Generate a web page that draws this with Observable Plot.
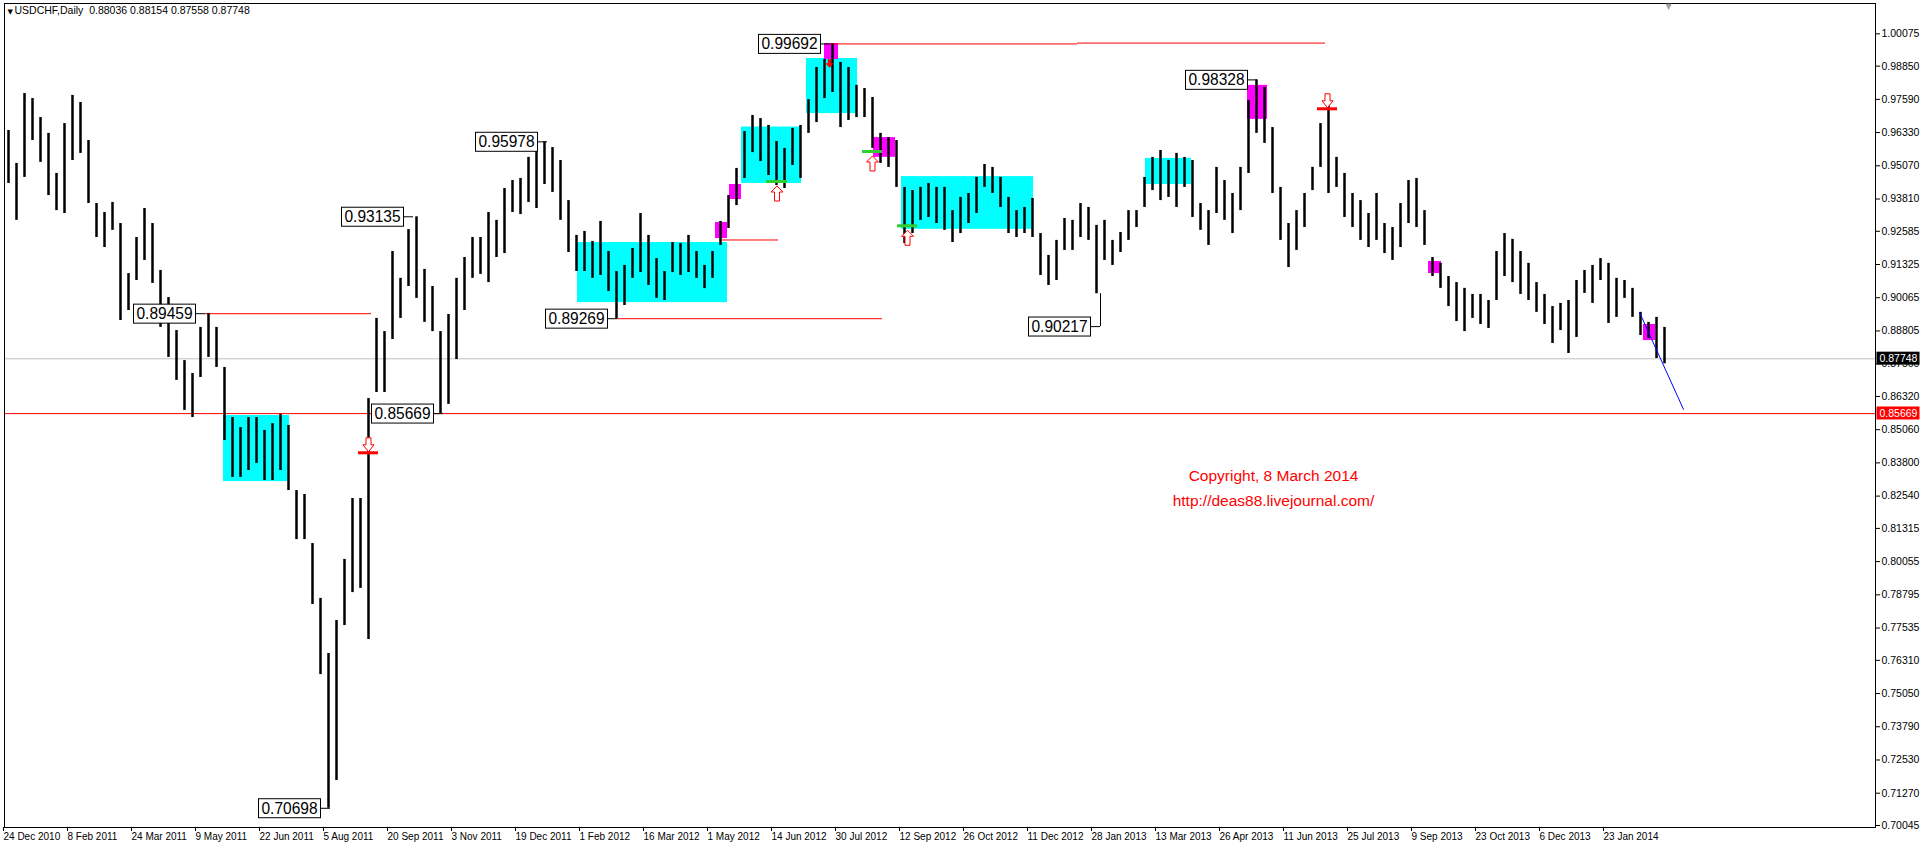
<!DOCTYPE html>
<html><head><meta charset="utf-8">
<script src="https://cdn.jsdelivr.net/npm/d3@7"></script>
<script src="https://cdn.jsdelivr.net/npm/@observablehq/plot@0.6"></script>
<style>html,body{margin:0;padding:0;background:#fff;overflow:hidden}#chart svg{display:block}</style>
</head><body><div id="chart"></div>
<script>
// Each entry aggregates four consecutive daily bars (high / low)
const hi = [0.9641,0.9516,0.9781,0.9762,0.9690,0.9630,0.9478,0.9667,0.9774,0.9747,
0.9603,0.9364,0.9330,0.9368,0.9288,0.9098,0.9235,0.9345,0.9288,0.9110,
0.9007,0.8882,0.8768,0.8719,0.8894,0.8947,0.8894,0.8742,0.8552,0.8514,
0.8552,0.8552,0.8503,0.8529,0.8564,0.8522,0.8275,0.8260,0.8074,0.7866,
0.7657,0.7782,0.8014,0.8245,0.8245,0.8624,0.8928,0.8878,0.9182,0.9080,
0.9265,0.93135,0.9114,0.9049,0.8878,0.8943,0.9080,0.9159,0.9235,0.9235,
0.9330,0.9300,0.9421,0.9451,0.9459,0.9539,0.9569,0.95978,0.9576,0.9527,
0.9375,0.9243,0.9258,0.9220,0.9296,0.9182,0.9106,0.9129,0.9193,0.9326,
0.9243,0.9155,0.9106,0.9216,0.9212,0.9243,0.9182,0.9129,0.9182,0.9296,
0.9394,0.9497,0.9637,0.9698,0.9686,0.9660,0.9599,0.9573,0.9649,0.9660,
0.9758,0.9880,0.9910,0.99692,0.9899,0.9880,0.9812,0.9800,0.9766,0.9630,
0.9614,0.9603,0.9425,0.9413,0.9425,0.9440,0.9425,0.9425,0.9337,0.9387,
0.9402,0.9463,0.9512,0.9501,0.9463,0.9387,0.9337,0.9349,0.9383,0.9250,
0.9167,0.9224,0.9307,0.9300,0.9364,0.9349,0.9281,0.9300,0.9224,0.9254,
0.9337,0.9337,0.9463,0.9539,0.9565,0.9527,0.9554,0.9539,0.9527,0.9364,
0.9337,0.9501,0.9451,0.9402,0.9501,0.9755,0.98328,0.9804,0.9652,0.9425,
0.9288,0.9337,0.9402,0.9501,0.9667,0.9755,0.9539,0.9478,0.9402,0.9375,
0.9326,0.9402,0.9288,0.9273,0.9364,0.9451,0.9459,0.9337,0.9159,0.9137,
0.9087,0.9064,0.9042,0.9019,0.9019,0.8996,0.9182,0.9250,0.9228,0.9182,
0.9137,0.9064,0.9019,0.8973,0.8985,0.8996,0.9072,0.9110,0.9129,0.9155,
0.9137,0.9080,0.9072,0.9042,0.8951,0.8913,0.8932,0.8894];
const lo = [0.9440,0.9300,0.9463,0.9603,0.9520,0.9394,0.9337,0.9326,0.9527,0.9554,
0.9364,0.9235,0.9197,0.9262,0.8920,0.8958,0.9072,0.9148,0.9061,0.8894,
0.8780,0.8693,0.8579,0.8552,0.8704,0.8780,0.8742,0.8465,0.8325,0.8325,
0.8351,0.8378,0.8313,0.8313,0.8351,0.8275,0.8089,0.8089,0.7843,0.7577,
0.70698,0.7175,0.7763,0.7888,0.7904,0.7710,0.8647,0.8647,0.8848,0.8928,
0.9049,0.9004,0.8913,0.8878,0.85669,0.8602,0.8772,0.8958,0.9080,0.9095,
0.9064,0.9159,0.9174,0.9330,0.9322,0.9368,0.9345,0.9436,0.9406,0.9300,
0.9178,0.9106,0.9106,0.9080,0.9091,0.9030,0.89269,0.8977,0.9080,0.9102,
0.9053,0.9004,0.8996,0.9102,0.9091,0.9102,0.9080,0.9041,0.9080,0.9205,
0.9269,0.9356,0.9459,0.9557,0.9523,0.9470,0.9432,0.9421,0.9508,0.9459,
0.9630,0.9671,0.9762,0.9785,0.9652,0.9679,0.9690,0.9690,0.9573,0.9516,
0.9501,0.9425,0.9212,0.9250,0.9300,0.9311,0.9288,0.9262,0.9216,0.9250,
0.9288,0.9326,0.9425,0.9402,0.9349,0.9250,0.9235,0.9250,0.9235,0.9091,
0.9053,0.9072,0.9186,0.9186,0.9235,0.9224,0.90217,0.9148,0.9129,0.9178,
0.9224,0.9273,0.9349,0.9413,0.9375,0.9387,0.9349,0.9425,0.9311,0.9262,
0.9205,0.9326,0.9300,0.9250,0.9337,0.9478,0.9630,0.9592,0.9402,0.9224,
0.9121,0.9186,0.9273,0.9413,0.9501,0.9402,0.9425,0.9311,0.9273,0.9224,
0.9197,0.9224,0.9174,0.9148,0.9197,0.9288,0.9273,0.9205,0.9087,0.9042,
0.8973,0.8916,0.8878,0.8928,0.8905,0.8890,0.8996,0.9087,0.9064,0.9019,
0.8996,0.8951,0.8905,0.8833,0.8882,0.8795,0.8856,0.9023,0.8985,0.9072,
0.8909,0.8932,0.9004,0.8932,0.8863,0.8852,0.8776,0.8756];

const dateLabels = ["24 Dec 2010","8 Feb 2011","24 Mar 2011","9 May 2011","22 Jun 2011","5 Aug 2011","20 Sep 2011","3 Nov 2011","19 Dec 2011","1 Feb 2012","16 Mar 2012","1 May 2012","14 Jun 2012","30 Jul 2012","12 Sep 2012","26 Oct 2012","11 Dec 2012","28 Jan 2013","13 Mar 2013","26 Apr 2013","11 Jun 2013","25 Jul 2013","9 Sep 2013","23 Oct 2013","6 Dec 2013","23 Jan 2014"];
const barsPerLabel = 32;
const yTicks = [1.00075,0.98850,0.97590,0.96330,0.95070,0.93810,0.92585,0.91325,0.90065,0.88805,0.87560,0.86320,0.85060,0.83800,0.82540,0.81315,0.80055,0.78795,0.77535,0.76310,0.75050,0.73790,0.72530,0.71270,0.70045];

// zones: [from bar, to bar, low price, high price]
const cyanZones = [[110,143,0.8309,0.8560],[287,362,0.8988,0.9216],[369,399,0.9440,0.9654],[401.5,427,0.9705,0.9914],[449,515,0.9266,0.9466],[571,594,0.9436,0.9535]];
const magentaZones = [[356,362,0.9231,0.9292],[363,369,0.9379,0.9436],[410.5,417.5,0.9910,0.9971],[435,446,0.9539,0.9614],[622,632,0.9683,0.9812],[712.5,719,0.9098,0.9144],[820,826,0.8844,0.8905]];
// red level segments: [from bar, to bar, price]
const redSegments = [[101,184,0.89459],[307,439.5,0.89269],[359.5,387.5,0.92255],[413.5,537,0.99692],[537,661,0.99725]];
const supportLevel = 0.85669;
const lastPrice = 0.87748;
// extreme labels: [anchor bar, price, price level where the label box sits]
const extremes = [[101,0.89459,0.89459],[163.5,0.70698,0.70698],[220,0.85669,0.85669],[205,0.93135,0.93135],[272,0.95978,0.95978],[307,0.89269,0.89269],[413.5,0.99692,0.99692],[548.5,0.90217,0.8897],[627,0.98328,0.98328]];
// signal markers: [from bar, to bar, price]
const sellSignals = [[177.5,187.5,0.84183],[657,667,0.97232]];
const buySignals = [[381.5,392,0.94474],[429.5,439.5,0.95612],[447,457,0.92794]];
const peakMark = [[413,0.9895]];
const trendLine = [[818,0.8951],[840,0.8583]];
const copyright = [[635,0.8332,"Copyright, 8 March 2014"],[635,0.8234,"http://deas88.livejournal.com/"]];

const bars = hi.map((h, g) => ({day: g * 4 + 2.5, hi: h, lo: lo[g]}));
const zone = a => ({x1: a[0], x2: a[1], y1: a[2], y2: a[3]});

const downArrow = {draw(c) { c.moveTo(-2.5,-7); c.lineTo(2.5,-7); c.lineTo(2.5,0); c.lineTo(5.5,0); c.lineTo(0,7); c.lineTo(-5.5,0); c.lineTo(-2.5,0); c.closePath(); }};
const upArrow = {draw(c) { c.moveTo(0,-7.5); c.lineTo(6,-1.5); c.lineTo(2.5,-1.5); c.lineTo(2.5,7.5); c.lineTo(-2.5,7.5); c.lineTo(-2.5,-1.5); c.lineTo(-6,-1.5); c.closePath(); }};
const smallDown = {draw(c) { c.moveTo(-1.5,-4); c.lineTo(1.5,-4); c.lineTo(1.5,0); c.lineTo(3.5,0); c.lineTo(0,4); c.lineTo(-3.5,0); c.lineTo(-1.5,0); c.closePath(); }};

const svg = Plot.plot({
  width: 1920, height: 847,
  marginLeft: 4, marginRight: 45, marginTop: 3, marginBottom: 20,
  x: {domain: [0.5, 936], axis: null},
  y: {domain: [0.69969, 1.01226], axis: null},
  style: {fontFamily: "'Liberation Sans', Arial, sans-serif", fontSize: "10.5px", color: "#000", background: "#fff", overflow: "visible"},
  marks: [
    Plot.rect(cyanZones.map(zone), {x1: "x1", x2: "x2", y1: "y1", y2: "y2", fill: "#00ffff"}),
    Plot.rect(magentaZones.map(zone), {x1: "x1", x2: "x2", y1: "y1", y2: "y2", fill: "#ff00ff"}),
    Plot.ruleY([lastPrice], {stroke: "#c0c0c0"}),
    Plot.ruleY([supportLevel], {stroke: "#ff0000"}),
    Plot.ruleY(redSegments, {x1: d => d[0], x2: d => d[1], y: d => d[2], stroke: "#ff0000"}),
    Plot.ruleX(bars, {x: "day", y1: "lo", y2: "hi", stroke: "#000", strokeWidth: 2.5}),
    Plot.line(trendLine, {x: d => d[0], y: d => d[1], stroke: "#0000ff", strokeWidth: 1}),
    Plot.ruleY(extremes, {x1: d => d[0] - 5, x2: d => d[0], y: d => d[2], stroke: "#000"}),
    Plot.ruleX(extremes.filter(d => d[2] !== d[1]), {x: d => d[0], y1: d => d[1], y2: d => d[2], stroke: "#000"}),
    Plot.text(extremes, {x: d => d[0], y: d => d[2], dx: -13, text: d => d[1].toFixed(5), textAnchor: "end", fontSize: 17, fill: "#000", ariaDescription: "extreme-label"}),
    Plot.ruleY(sellSignals, {x1: d => d[0], x2: d => d[1], y: d => d[2], stroke: "#ff0000", strokeWidth: 3}),
    Plot.ruleY(buySignals, {x1: d => d[0], x2: d => d[1], y: d => d[2], stroke: "#32cd32", strokeWidth: 3}),
    Plot.dot(sellSignals, {x: d => (d[0] + d[1]) / 2, y: d => d[2], dy: -8, symbol: downArrow, fill: "#fff", stroke: "#ff0000", strokeWidth: 1}),
    Plot.dot(buySignals, {x: d => (d[0] + d[1]) / 2, y: d => d[2], dy: 12, symbol: upArrow, fill: "#fff", stroke: "#ff0000", strokeWidth: 1}),
    Plot.dot(peakMark, {x: d => d[0], y: d => d[1], symbol: smallDown, fill: "#ff0000", stroke: "#ff0000", strokeWidth: 0.5}),
    Plot.text(copyright, {x: d => d[0], y: d => d[1], text: d => d[2], fill: "#ff0000", fontSize: 15.5}),
    Plot.axisY({ticks: yTicks, anchor: "right", tickSize: 4, tickPadding: 2, tickFormat: d => d.toFixed(5), label: null}),
    Plot.axisX({ticks: dateLabels.map((_, k) => k * barsPerLabel), tickFormat: d => dateLabels[Math.round(d / barsPerLabel)], anchor: "bottom", tickSize: 4, tickPadding: 1, textAnchor: "start", fontSize: 10, label: null}),
    Plot.frame({stroke: "#000"}),
    Plot.text([lastPrice], {y: d => d, frameAnchor: "right", dx: 4, textAnchor: "start", text: d => d.toFixed(5), fill: "#fff", ariaDescription: "price-black"}),
    Plot.text([supportLevel], {y: d => d, frameAnchor: "right", dx: 4, textAnchor: "start", text: d => d.toFixed(5), fill: "#fff", ariaDescription: "price-red"}),
    Plot.text(["\u25BC"], {frameAnchor: "top-left", dx: 3, dy: 6, fontSize: 7, textAnchor: "start", fontFamily: "DejaVu Sans"}),
    Plot.text(["USDCHF,Daily  0.88036 0.88154 0.87558 0.87748"], {frameAnchor: "top-left", dx: 10, dy: 3, textAnchor: "start", lineAnchor: "top", fontSize: 10.5}),
    Plot.text(["\u25BC"], {x: [832.5], frameAnchor: "top", dy: 0, fontSize: 8, fill: "#a0a0a0", fontFamily: "DejaVu Sans"})
  ]
});
document.getElementById("chart").append(svg);

const NS = "http://www.w3.org/2000/svg";
function boxify(label, opts) {
  svg.querySelectorAll(`[aria-description="${label}"] text`).forEach(t => {
    if (opts.textLength) { t.setAttribute("textLength", opts.textLength); t.setAttribute("lengthAdjust", "spacingAndGlyphs"); }
    const b = t.getBBox();
    const r = document.createElementNS(NS, "rect");
    const w = opts.width || b.width + 6;
    const x = opts.left != null ? b.x - opts.left : b.x + b.width / 2 - w / 2;
    r.setAttribute("x", x);
    r.setAttribute("y", b.y + b.height / 2 - opts.height / 2);
    r.setAttribute("width", w);
    r.setAttribute("height", opts.height);
    r.setAttribute("fill", opts.fill);
    if (opts.stroke) r.setAttribute("stroke", opts.stroke);
    if (t.getAttribute("transform")) r.setAttribute("transform", t.getAttribute("transform"));
    t.parentNode.insertBefore(r, t);
  });
}
boxify("extreme-label", {textLength: 56, width: 62, height: 19, fill: "#fff", stroke: "#000"});
boxify("price-black", {left: 3, width: 43, height: 13, fill: "#000"});
boxify("price-red", {left: 3, width: 43, height: 13, fill: "#ff0000"});
</script>
</body></html>
